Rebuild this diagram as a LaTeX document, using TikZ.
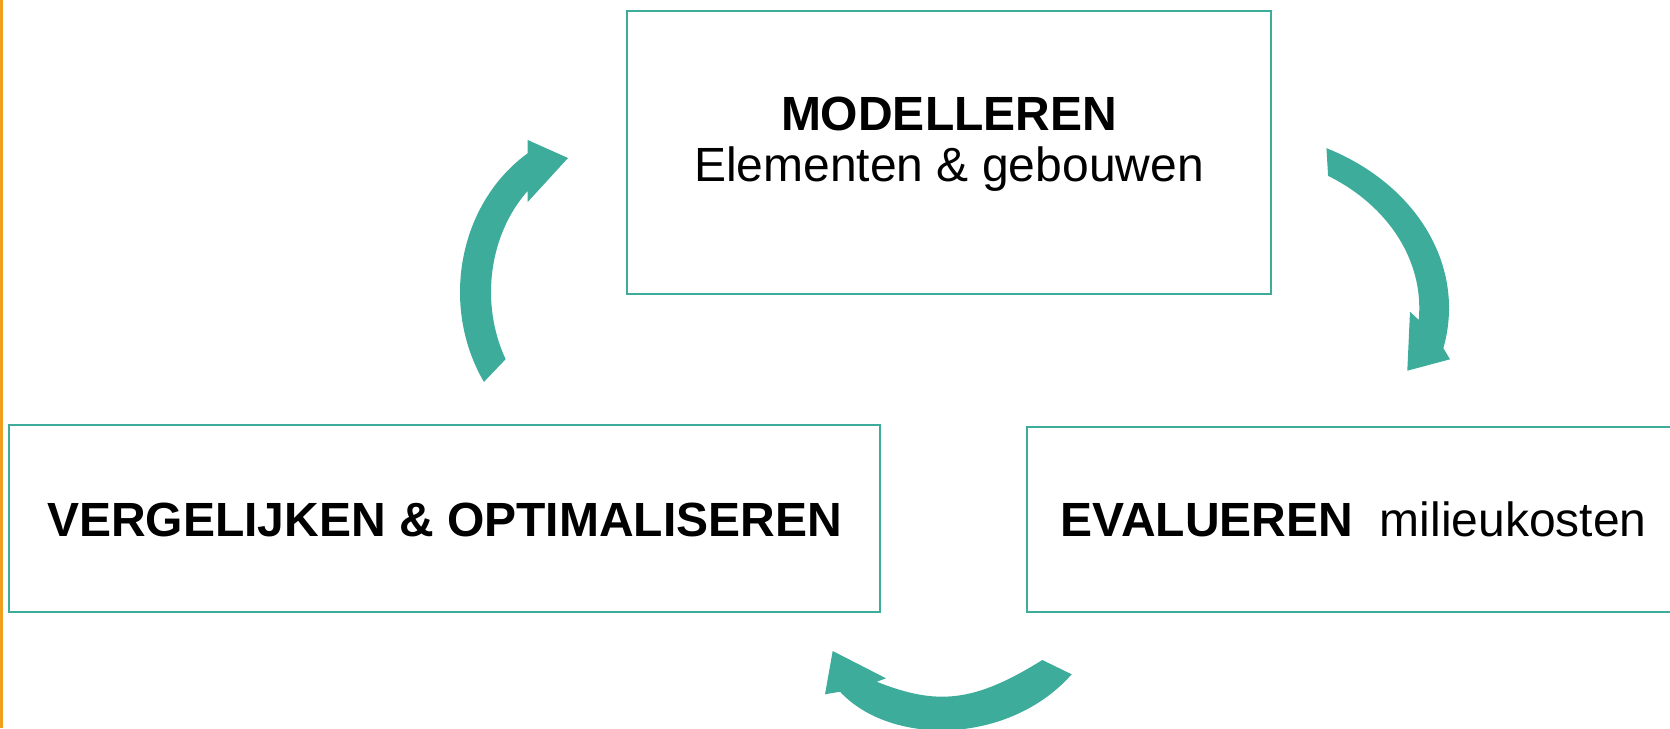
\documentclass[tikz,border=0pt]{standalone}
\usepackage{fontspec}
\setmainfont{Liberation Sans}
\usetikzlibrary{positioning,calc}

\definecolor{groen}{RGB}{61,172,154}
\definecolor{oranje}{RGB}{240,160,30}

\begin{document}
\begin{tikzpicture}[x=1pt,y=-1pt,
		kader/.style={draw=groen, line width=2.2pt, rectangle, inner sep=0pt},
		pijl/.style={fill=groen, draw=none},
		tekst/.style={font=\fontsize{48}{51}\selectfont, inner sep=0pt}]
		\useasboundingbox (0,0) rectangle (1670,728);
		\clip (0,0) rectangle (1670,728);

		% streep links
		\fill[oranje] (0,0) rectangle (3,728);

		% kaders
		\node[kader, minimum width=644pt, minimum height=283pt] (model) at (949,152.5) {};
		\node[kader, minimum width=871pt, minimum height=187pt] (vergelijk) at (444.5,518.5) {};
		\node[kader, minimum width=655pt, minimum height=185pt] (evalueer) at (1354.5,519.5) {};

		\node[tekst, anchor=base] (modelkop) at (949,130) {\bfseries MODELLEREN};
		\node[tekst, anchor=base] (modelsub) at (949,181) {Elementen \& gebouwen};
		\node[tekst, anchor=base] (vergelijktekst) at (444.5,536) {\bfseries VERGELIJKEN \& OPTIMALISEREN};
		\node[tekst, anchor=base west] (evalueertekst) at (1060.5,536) {\textbf{EVALUEREN}\ \ milieukosten};

		% pijl links (omhoog)
		\fill[pijl] ($(610,292)+(147.2:150 and 166)$)
			arc[start angle=147.2, end angle=236.7, x radius=150, y radius=166]
			-- (527.7,140) -- (568,158) -- (527.7,202)
			-- ($(610,292)+(226.2:119 and 140)$)
			arc[start angle=226.2, end angle=151.3, x radius=119, y radius=140] -- cycle;
		% pijl rechts (omlaag)
		\fill[pijl] ($(1228.3,308)+(-63.6:220.7 and 178.5)$)
			arc[start angle=-63.6, end angle=13, x radius=220.7, y radius=178.5]
			-- (1450,359.3) -- (1407.3,370.7) -- (1410,311.7)
			-- ($(1228.3,308)+(4.4:191 and 155)$)
			arc[start angle=4.4, end angle=-58.5, x radius=191, y radius=155] -- cycle;
		% pijl onder (naar links)
		\fill[pijl] (1042.3,660) .. controls (974.3,702.4) and (937.2,705.8) .. (876.7,681.7)
			-- (886,678.3) -- (832.7,651) -- (825,694.3) -- (840,691.7)
			.. controls (891,746.5) and (1009,745) .. (1071.7,674.3) -- cycle;
	\end{tikzpicture}
\end{document}
